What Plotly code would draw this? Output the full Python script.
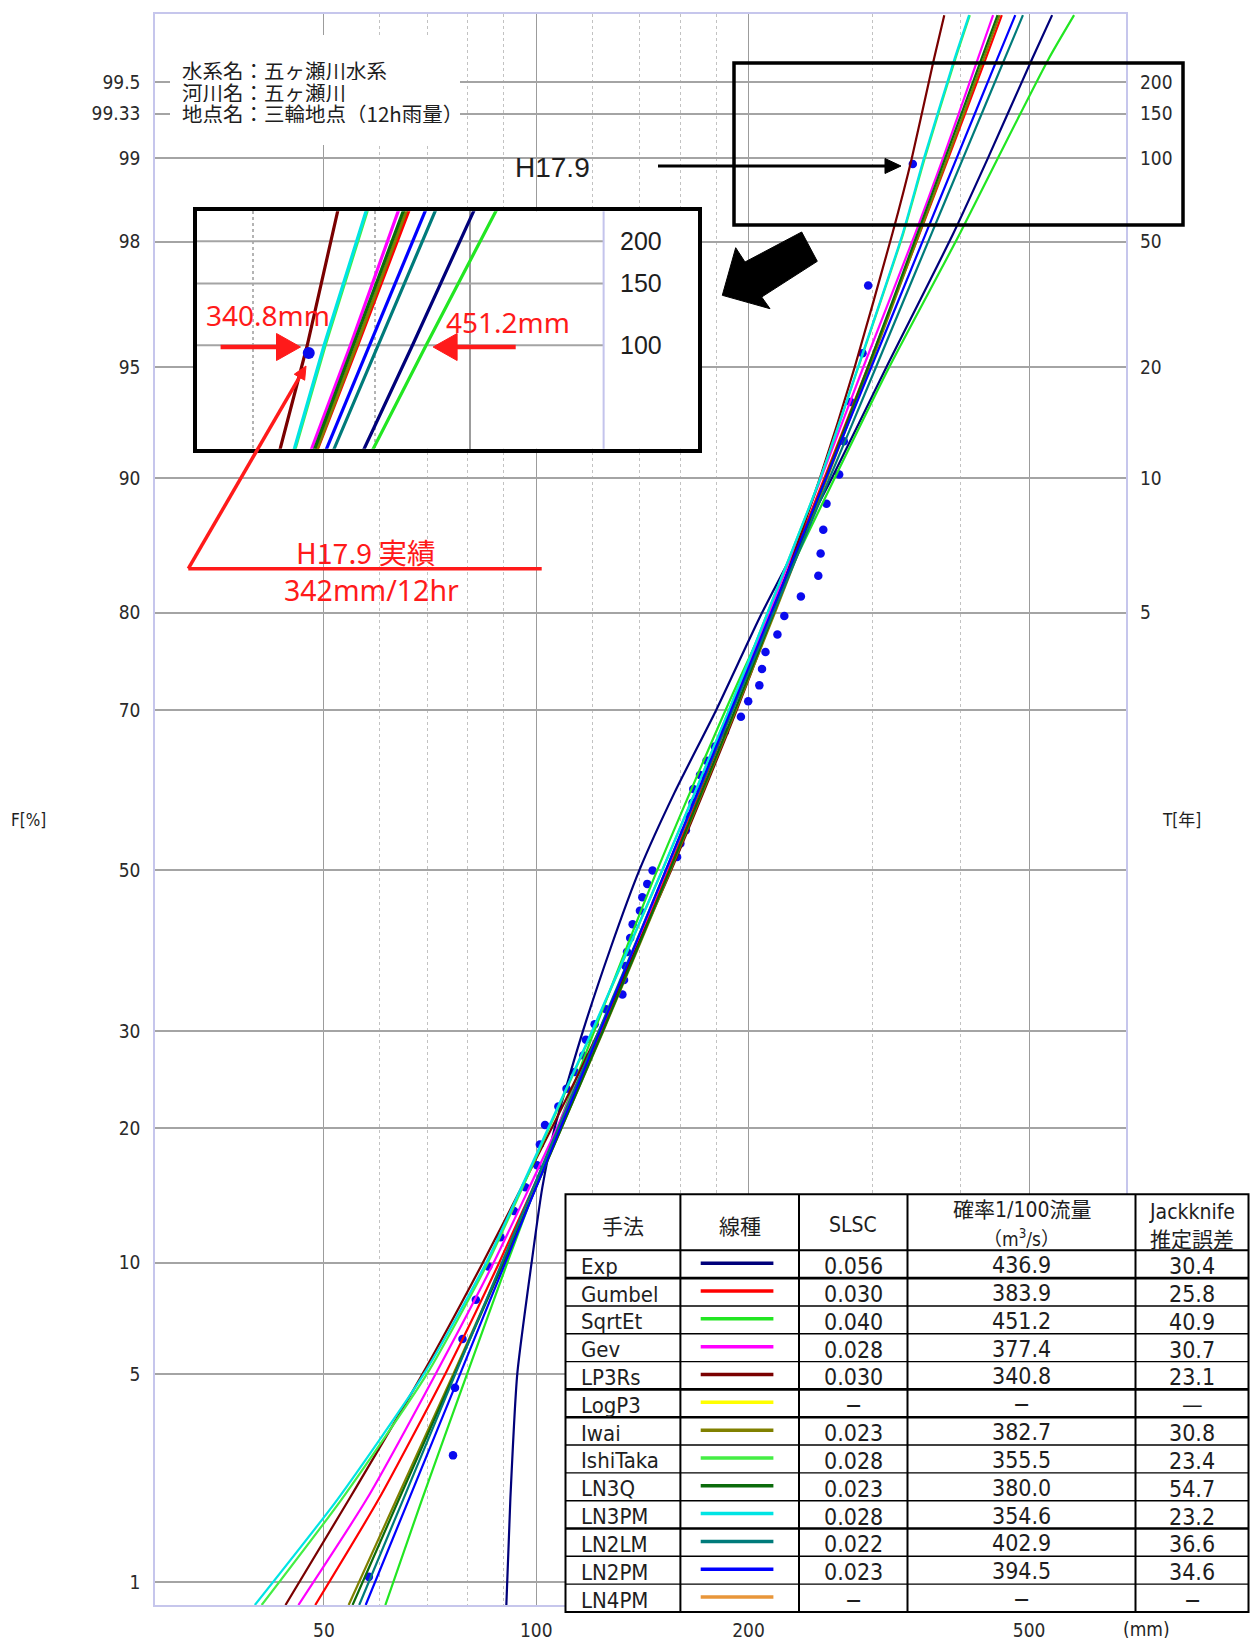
import math
from statistics import NormalDist
import plotly.graph_objects as go

# ---------------- data ----------------
# probability levels (non-exceedance, %) at which each fitted curve was read
F_LEVELS = [0.82, 2, 5, 10, 20, 30, 50, 70, 80, 90, 95, 98.12, 99, 99.6, 99.74]

GUMBEL_MM   = [48.6, 59.8, 74.3, 88.6, 108.0, 123.8, 153.8, 189.9, 215.4, 256.2, 295.3, 349.4, 383.9, 433.9, 457.3]
SQRTET_MM   = [61.1, 68.9, 79.8, 91.0, 107.2, 120.9, 148.4, 185.6, 214.6, 264.9, 316.7, 398.5, 451.2, 533.0, 579.0]
GEV_MM      = [46.0, 57.5, 72.0, 87.0, 107.0, 123.0, 153.0, 189.0, 214.0, 253.5, 291.0, 344.5, 377.4, 423.0, 444.5]
LP3RS_MM    = [44.1, 54.3, 69.0, 84.0, 105.2, 122.7, 155.3, 192.5, 216.9, 252.5, 282.9, 319.8, 340.8, 366.5, 379.0]
IWAI_MM     = [54.2, 63.4, 76.3, 89.7, 108.6, 124.5, 155.0, 192.0, 218.0, 258.5, 297.0, 349.0, 382.7, 431.0, 454.0]
ISHITAKA_MM = [40.8, 53.0, 70.0, 85.4, 104.3, 120.2, 150.9, 187.7, 212.8, 252.9, 286.3, 331.3, 355.5, 393.0, 412.0]
LN3Q_MM     = [54.9, 63.9, 76.6, 89.9, 108.6, 124.3, 154.6, 191.4, 217.2, 257.3, 295.5, 347.0, 380.0, 428.0, 451.0]
LN3PM_MM    = [39.9, 52.3, 69.3, 84.9, 104.0, 120.0, 150.8, 187.7, 212.8, 252.8, 286.0, 330.7, 354.6, 392.0, 411.0]
LN2LM_MM    = [56.1, 64.8, 76.8, 89.4, 107.4, 122.7, 152.7, 189.9, 216.9, 260.6, 303.3, 363.3, 402.9, 461.7, 490.0]
LN2PM_MM    = [57.3, 66.0, 78.0, 90.4, 108.2, 123.2, 152.6, 189.0, 215.3, 257.6, 298.7, 356.5, 394.5, 450.7, 477.9]

# the Exp curve bends strongly, so it was read at more levels
EXP_F  = [0.82, 2, 5, 10, 15, 20, 30, 40, 50, 60, 70, 80, 90, 95, 98.12, 99, 99.6, 99.74]
EXP_MM = [90.7, 91.9, 94.0, 98.5, 102.0, 106.2, 116.5, 127.5, 140.0, 157.0, 180.0, 209.0, 262.5, 313.8, 390.0, 436.9, 505.0, 539.0]

# observed annual maxima (12h rainfall, mm) and their plotting positions (%)
PTS_F = [1.05, 2.80, 4.55, 6.29, 8.04, 9.79, 11.54, 13.29, 15.03, 16.78, 18.53, 20.28,
         22.03, 23.78, 25.52, 27.27, 29.02, 30.77, 32.52, 34.27, 36.01, 37.76, 39.51,
         41.26, 43.01, 44.76, 46.50, 48.25, 50.00, 51.75, 53.50, 55.24, 56.99, 58.74,
         60.49, 62.24, 63.99, 65.73, 67.48, 69.23, 70.98, 72.73, 74.48, 76.22, 77.97,
         79.72, 81.47, 83.22, 84.97, 86.71, 88.46, 90.21, 91.96, 93.71, 95.45, 97.20, 98.95]
PTS_MM = [57.9, 76.2, 76.7, 78.6, 82.1, 85.5, 89.0, 93.0, 96.5, 100.3, 101.2, 102.9,
          107.5, 110.4, 113.5, 116.6, 117.6, 121.0, 125.6, 132.5, 133.2, 133.8, 134.5,
          135.9, 137.0, 140.3, 141.4, 143.7, 146.2, 158.4, 160.1, 163.0, 164.9, 166.6,
          167.0, 170.7, 174.4, 179.2, 185.2, 195.1, 199.8, 207.2, 209.0, 211.4, 219.8,
          224.8, 237.3, 251.2, 253.1, 255.3, 258.0, 268.9, 273.0, 279.0, 290.2, 295.6, 342.0]

# table
METHODS = ["Exp", "Gumbel", "SqrtEt", "Gev", "LP3Rs", "LogP3", "Iwai", "IshiTaka",
           "LN3Q", "LN3PM", "LN2LM", "LN2PM", "LN4PM"]
LINE_COLORS = ["#00007a", "#ff0000", "#22e622", "#ff00ff", "#7a0000", "#ffff00", "#808000",
               "#44ee44", "#0b6b0b", "#00e4e4", "#007b7b", "#0000ff", "#e8963a"]
SLSC = ["0.056", "0.030", "0.040", "0.028", "0.030", "−", "0.023", "0.028", "0.023",
        "0.028", "0.022", "0.023", "−"]
Q100 = ["436.9", "383.9", "451.2", "377.4", "340.8", "−", "382.7", "355.5", "380.0",
        "354.6", "402.9", "394.5", "−"]
JACKKNIFE = ["30.4", "25.8", "40.9", "30.7", "23.1", "—", "30.8", "23.4", "54.7", "23.2",
             "36.6", "34.6", "−"]
CURVES = {"Exp": (EXP_F, EXP_MM), "Gumbel": (F_LEVELS, GUMBEL_MM), "SqrtEt": (F_LEVELS, SQRTET_MM),
          "Gev": (F_LEVELS, GEV_MM), "LP3Rs": (F_LEVELS, LP3RS_MM), "IshiTaka": (F_LEVELS, ISHITAKA_MM),
          "Iwai": (F_LEVELS, IWAI_MM), "LN3Q": (F_LEVELS, LN3Q_MM), "LN3PM": (F_LEVELS, LN3PM_MM),
          "LN2LM": (F_LEVELS, LN2LM_MM), "LN2PM": (F_LEVELS, LN2PM_MM)}

# axis ticks
F_TICKS = [1, 5, 10, 20, 30, 50, 70, 80, 90, 95, 98, 99, 99.33, 99.5]
F_TICKTEXT = ["1", "5", "10", "20", "30", "50", "70", "80", "90", "95", "98", "99", "99.33", "99.5"]
T_YEARS = [5, 10, 20, 50, 100, 150, 200]
X_TICKS = [50, 100, 200, 500]
X_MINOR = [60, 70, 80, 90, 120, 140, 160, 180, 300, 400]
X_RANGE_MM = [28.8, 686]
F_RANGE = [0.82, 99.743]
INSET_X_MM = [262.4, 857.6]
INSET_F = [98.115, 99.595]
INSET_T = [200, 150, 100]
INFO_LINES = ["水系名：五ヶ瀬川水系", "河川名：五ヶ瀬川", "地点名：三輪地点（12h雨量）"]

# ---------------- helpers ----------------
ND = NormalDist()


def zf(p):
    """normal probability-paper scale: percent -> standard normal quantile"""
    return ND.inv_cdf(p / 100.0)


W = 1254
H = 1653                     # captured page height (the photo is fitted to 1638 rows)
K = H / 1638.0               # vertical design scale
PL, PR, PT, PB = 155, 1126, 12, 1603   # plot area in reference pixels


def px(x):
    return (x - PL) / (PR - PL)


def py(y):
    return (PB - y) / (PB - PT)


NARROW = "Liberation Sans Narrow, Arial Narrow, DejaVu Sans Condensed, Liberation Sans, sans-serif"
SANS = "Liberation Sans, Arial, sans-serif"
JP = "Noto Sans CJK JP, Noto Sans, sans-serif"
RED = "#ff1a1a"
color_of = dict(zip(METHODS, LINE_COLORS))

fig = go.Figure()

# observed points (main)
fig.add_trace(go.Scatter(x=PTS_MM, y=[zf(f) for f in PTS_F], mode="markers",
                         marker=dict(color="#0a0aee", size=8.5),
                         xaxis="x", yaxis="y", showlegend=False, hoverinfo="skip"))

for name, (fl, vals) in CURVES.items():
    fig.add_trace(go.Scatter(x=vals, y=[zf(f) for f in fl], mode="lines",
                             line=dict(color=color_of[name], width=2.2, shape="spline", smoothing=0.6),
                             xaxis="x", yaxis="y", showlegend=False, name=name))

# inset: grid at return-period lines up to the original chart edge
gx, gy = [], []
for T in INSET_T:
    gx += [200, X_RANGE_MM[1], None]
    gy += [zf(100 * (1 - 1 / T))] * 2 + [None]
fig.add_trace(go.Scatter(x=gx, y=gy, mode="lines", line=dict(color="#a4a4a4", width=2),
                         xaxis="x3", yaxis="y3", showlegend=False, hoverinfo="skip"))
fig.add_trace(go.Scatter(x=[X_RANGE_MM[1]] * 2, y=[zf(90), zf(99.99)], mode="lines",
                         line=dict(color="#c4c4ec", width=2),
                         xaxis="x3", yaxis="y3", showlegend=False, hoverinfo="skip"))
for name, (fl, vals) in CURVES.items():
    fig.add_trace(go.Scatter(x=vals, y=[zf(f) for f in fl], mode="lines",
                             line=dict(color=color_of[name], width=3.2),
                             xaxis="x3", yaxis="y3", showlegend=False, name=name))
fig.add_trace(go.Scatter(x=PTS_MM, y=[zf(f) for f in PTS_F], mode="markers",
                         marker=dict(color="#0a0aee", size=12),
                         xaxis="x3", yaxis="y3", showlegend=False, hoverinfo="skip"))
# dummy trace for right axis
fig.add_trace(go.Scatter(x=[None], y=[None], xaxis="x", yaxis="y2", showlegend=False))

tickfont = dict(family=NARROW, size=19, color="#2a2a2a")
fig.update_layout(
    width=W, height=H,
    margin=dict(l=PL, r=W - PR, t=round(PT * K), b=round(H - PB * K), pad=0),
    paper_bgcolor="white", plot_bgcolor="white", showlegend=False,
    xaxis=dict(type="log", range=[math.log10(v) for v in X_RANGE_MM], tickvals=X_TICKS,
               ticktext=[str(v) for v in X_TICKS], tickfont=tickfont, ticks="",
               showgrid=True, gridcolor="#9c9c9c", gridwidth=1.3,
               minor=dict(tickvals=X_MINOR, showgrid=True, gridcolor="#c2c2c2",
                          griddash="dot", gridwidth=1.3, ticks=""),
               showline=True, linecolor="#c6c6ec", linewidth=1.5, mirror=True,
               zeroline=False, ticklabelstandoff=7),
    yaxis=dict(range=[zf(v) for v in F_RANGE], tickvals=[zf(f) for f in F_TICKS],
               ticktext=F_TICKTEXT, tickfont=tickfont, ticks="",
               showgrid=True, gridcolor="#a4a4a4", gridwidth=1.5, zeroline=False,
               showline=True, linecolor="#c6c6ec", linewidth=1.5, mirror=True,
               ticklabelstandoff=9),
    yaxis2=dict(overlaying="y", side="right", anchor="x",
                range=[zf(v) for v in F_RANGE],
                tickvals=[zf(100 * (1 - 1 / T)) for T in T_YEARS],
                ticktext=[str(T) for T in T_YEARS], tickfont=tickfont, ticks="",
                showgrid=False, zeroline=False, showline=False, ticklabelstandoff=13),
    xaxis3=dict(domain=[px(196.5), px(698.2)], anchor="y3", type="log",
                range=[math.log10(v) for v in INSET_X_MM], tickvals=[500],
                showticklabels=False, ticks="", showgrid=True, gridcolor="#9c9c9c", gridwidth=1.8,
                minor=dict(tickvals=[300, 400], showgrid=True, gridcolor="#b4b4b4",
                           griddash="dot", gridwidth=1.8, ticks=""),
                showline=True, linecolor="black", linewidth=3.5, mirror=True, zeroline=False),
    yaxis3=dict(domain=[py(446.7), py(209.3)], anchor="x3",
                range=[zf(v) for v in INSET_F], showticklabels=False, ticks="",
                showgrid=False, showline=True, linecolor="black", linewidth=3.5,
                mirror=True, zeroline=False),
)

shapes = []
ann = []


def txt(x, y, s, size, color="#1e1e1e", family=NARROW, xanchor="center", yanchor="middle",
        height=None, align="center"):
    d = dict(x=px(x), y=py(y), xref="paper", yref="paper", text=s, showarrow=False,
             font=dict(family=family, size=size, color=color),
             xanchor=xanchor, yanchor=yanchor, align=align)
    if height:
        d["height"] = height
        d["borderpad"] = 0
    ann.append(d)


def rect(x0, y0, x1, y1, line_color="black", width=0, fill=None):
    shapes.append(dict(type="rect", xref="paper", yref="paper", x0=px(x0), x1=px(x1),
                       y0=py(y0), y1=py(y1), line=dict(color=line_color, width=width),
                       fillcolor=fill, layer="above"))


def seg(x0, y0, x1, y1, color="black", width=1.5):
    shapes.append(dict(type="line", xref="paper", yref="paper", x0=px(x0), x1=px(x1),
                       y0=py(y0), y1=py(y1), line=dict(color=color, width=width), layer="above"))


def poly(points, color):
    path = "M " + " L ".join(f"{px(a):.5f},{py(b):.5f}" for a, b in points) + " Z"
    shapes.append(dict(type="path", xref="paper", yref="paper", path=path,
                       fillcolor=color, line=dict(color=color, width=1), layer="above"))


def arrow(xt, yt, xs, ys, color, width, head_len, head_half):
    dx, dy = xt - xs, yt - ys
    n = math.hypot(dx, dy)
    ux, uy = dx / n, dy / n
    bx, by = xt - ux * head_len, yt - uy * head_len
    seg(xs, ys, bx + ux * 1.5, by + uy * 1.5, color, width)
    poly([(xt, yt), (bx - uy * head_half, by + ux * head_half),
          (bx + uy * head_half, by - ux * head_half)], color)


# axis titles / unit
txt(28, 818, "F[%]", 17)
txt(1181, 818, "T[年]", 17, family=NARROW + ", Noto Sans CJK JP")
txt(1146, 1627, "(mm)", 19)

# info box
rect(170, 33, 460, 143, fill="white")
for i, line in enumerate(INFO_LINES):
    txt(181, 68 + 21.7 * i, line, 20.5, family=JP, xanchor="left", height=20)

# upper-right highlight box and H17.9 pointer
rect(734, 61, 1183, 223, width=3.5)
txt(552, 165, "H17.9", 28, family=SANS)
arrow(901, 164, 658, 164, "black", 3, 16, 7.5)

# big block arrow from box to inset
poly([(801.7, 230), (817.3, 259.3), (761.7, 295), (770, 306.7), (722.3, 293.3),
      (735.7, 245.7), (745, 260)], "black")

# inset labels
for T in INSET_T:
    ann.append(dict(x=px(641), y=zf(100 * (1 - 1 / T)), xref="paper", yref="y3", text=str(T),
                    showarrow=False, font=dict(family=SANS, size=25, color="#1e1e1e"),
                    xanchor="center", yanchor="middle"))

# red markers inside inset
for q in (Q100[METHODS.index("LP3Rs")], Q100[METHODS.index("SqrtEt")]):
    shapes.append(dict(type="line", xref="x3", yref="paper", x0=math.log10(float(q)),
                       x1=math.log10(float(q)), y0=py(364), y1=py(330),
                       line=dict(color=RED, width=3.5), layer="above"))
txt(268, 313, "340.8mm", 28, color=RED, family="Noto Sans, sans-serif")
txt(508, 320, "451.2mm", 28, color=RED, family="Noto Sans, sans-serif")
arrow(300.5, 345, 220.6, 345, RED, 4.5, 24, 13.5)
arrow(433.1, 345, 515.7, 345, RED, 4.5, 24, 13.5)

# red leader to H17.9 record
arrow(306, 364, 188.3, 566.7, RED, 3.5, 13, 6)
seg(188.3, 566.7, 541.7, 566.7, RED, 3.5)
txt(366, 549, "H17.9 実績", 28.5, color=RED, family=JP)
txt(371, 588, "342mm/12hr", 28.5, color=RED, family="Noto Sans, sans-serif")

# table
TX = [565.5, 680.4, 799.0, 907.5, 1135.5, 1248.5]
TTOP, HBOT, RH = 1192.3, 1248.3, 27.82
nrow = len(METHODS)
TBOT = HBOT + RH * nrow
rect(TX[0], TTOP, TX[-1], TBOT, line_color="black", width=2, fill="white")
for xv in TX[1:-1]:
    seg(xv, TTOP, xv, TBOT, width=2)
seg(TX[0], HBOT, TX[-1], HBOT, width=2)
thick = {"Exp", "LP3Rs", "LogP3", "LN3PM"}
for i, m in enumerate(METHODS[:-1]):
    yb = HBOT + RH * (i + 1)
    seg(TX[0], yb, TX[-1], yb, width=2.6 if m in thick else 1.4)

hc = [(TX[i] + TX[i + 1]) / 2 for i in range(5)]
txt(hc[0], 1223, "手法", 21, family=JP)
txt(hc[1], 1223, "線種", 21, family=JP)
txt(hc[2], 1223, "SLSC", 21)
txt(hc[3], 1208, "確率1/100流量", 21, family=NARROW + ", Noto Sans CJK JP", height=24)
txt(hc[3], 1236, "（m<sup>3</sup>/s）", 19, family=NARROW + ", Noto Sans CJK JP", height=24)
txt(hc[4], 1210, "Jackknife", 21, height=24)
txt(hc[4], 1236, "推定誤差", 21, family=JP, height=24)

for i, m in enumerate(METHODS):
    yc = HBOT + RH * (i + 0.5)
    txt(579, yc + 2, m, 22, xanchor="left")
    seg(700.7, yc - 1, 773.4, yc - 1, color=LINE_COLORS[i], width=3.5)
    txt(hc[2], yc + 2, SLSC[i], 23)
    txt(hc[3], yc + 1, Q100[i], 23)
    txt(hc[4], yc + 2, JACKKNIFE[i], 23)

fig.update_layout(shapes=shapes, annotations=ann)
fig.write_html("out.html", config={"displayModeBar": False},
               post_script="document.body.style.margin='0px';")
